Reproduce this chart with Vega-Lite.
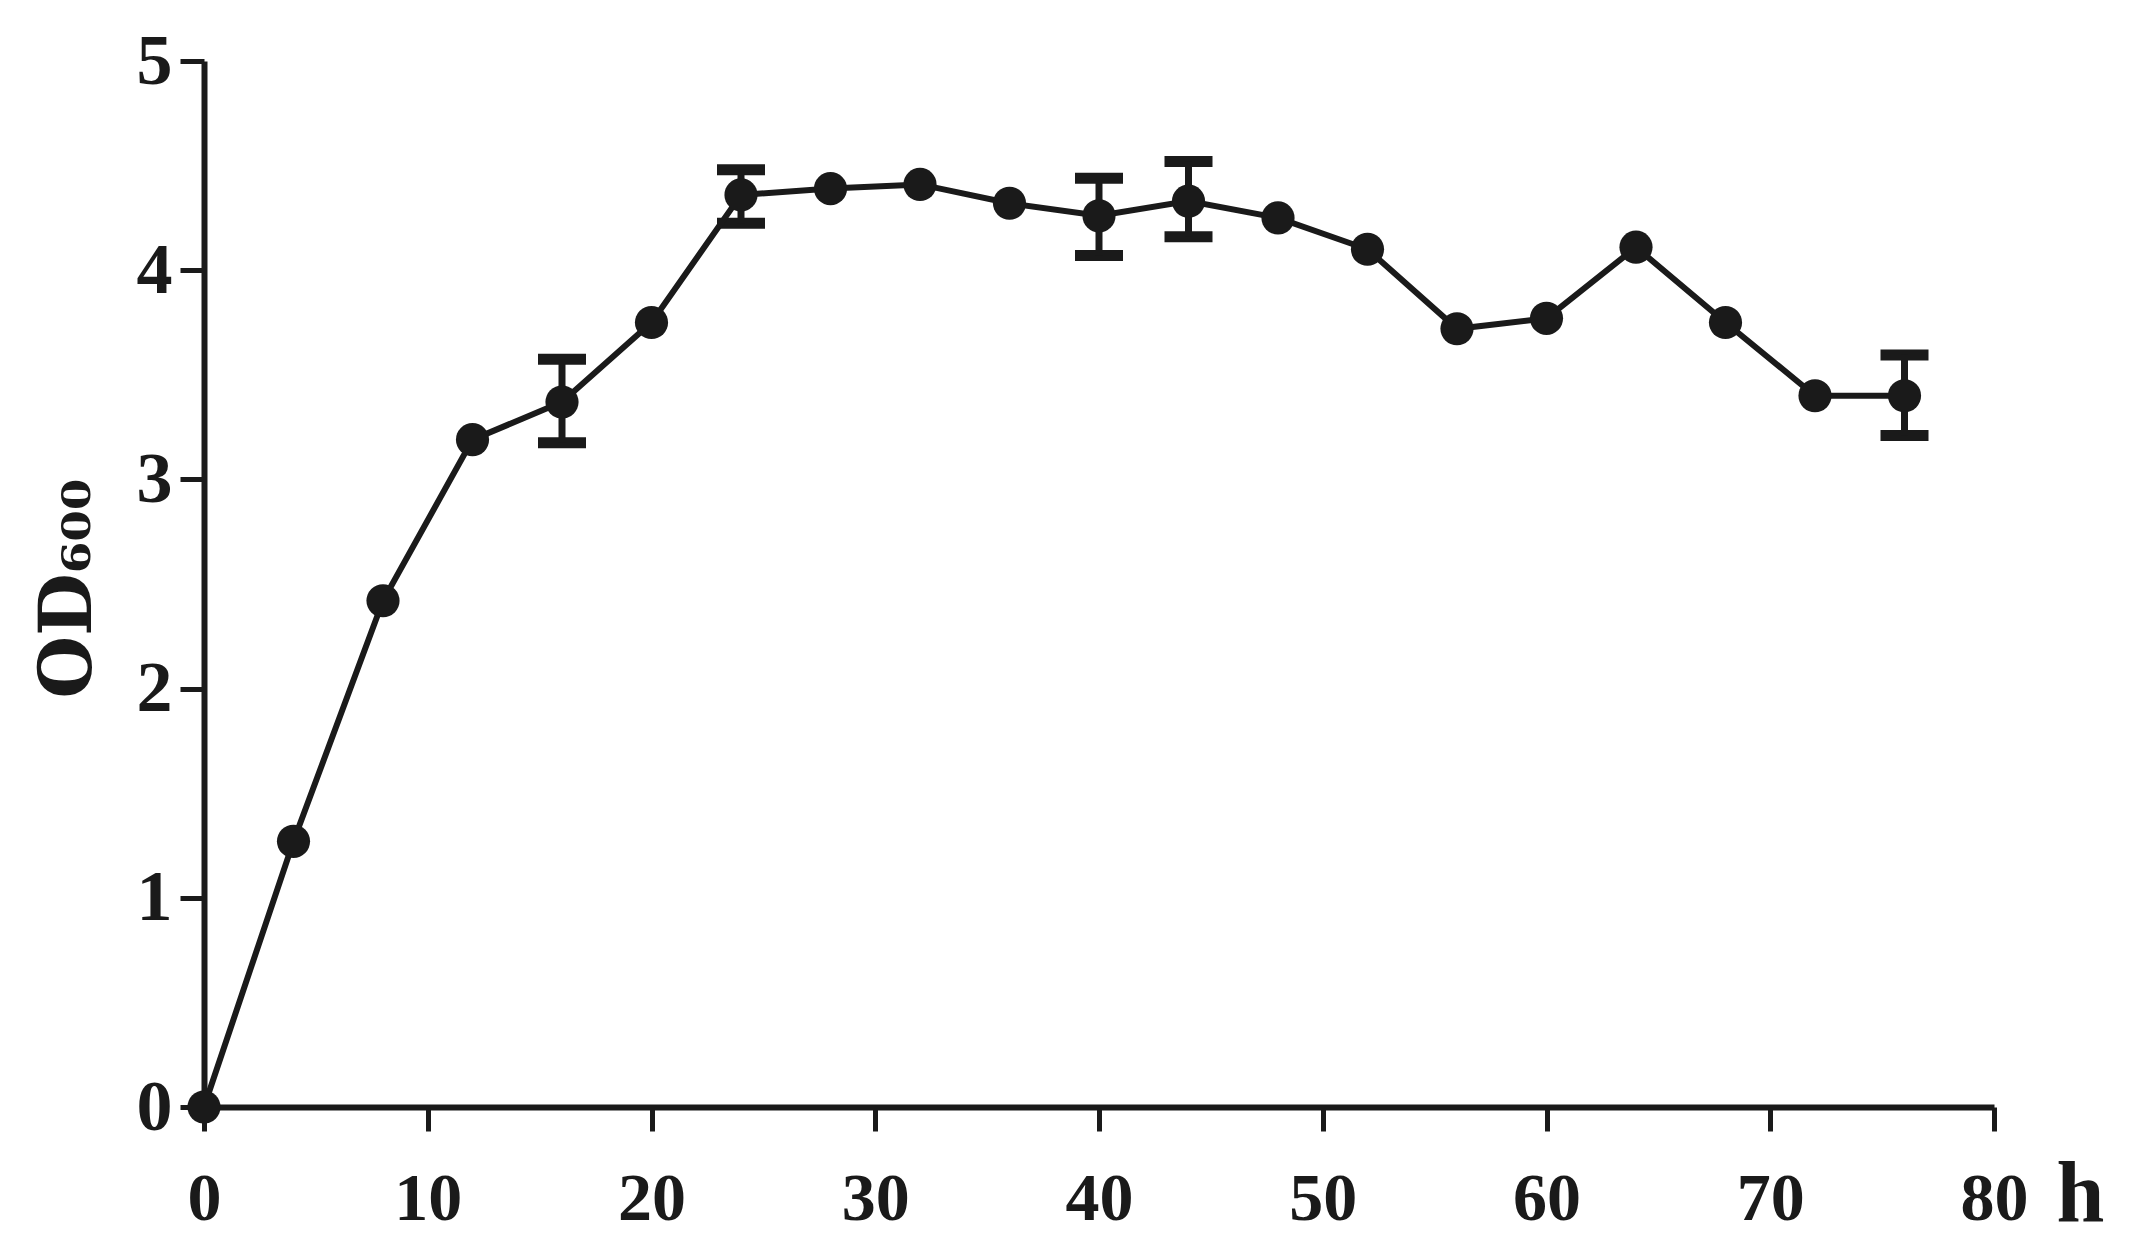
{
  "$schema": "https://vega.github.io/schema/vega-lite/v6.json",
  "autosize": {"type": "none"},
  "width": 1790,
  "height": 1046,
  "padding": {"left": 204, "top": 61, "right": 136, "bottom": 146},
  "background": "#ffffff",
  "config": {
    "view": {"stroke": null},
    "font": "Liberation Serif",
    "axis": {
      "domainColor": "#1a1a1a",
      "domainWidth": 6,
      "tickColor": "#1a1a1a",
      "tickWidth": 5,
      "tickSize": 24,
      "grid": false,
      "labelFlush": false,
      "labelOverlap": false,
      "labelFont": "Liberation Serif",
      "labelFontWeight": "bold",
      "labelFontSize": 68,
      "labelColor": "#1a1a1a",
      "titleFont": "Liberation Serif",
      "titleFontWeight": "bold",
      "titleColor": "#1a1a1a"
    }
  },
  "datasets": {
    "pts": [
      {"h": 0, "od": 0.0},
      {"h": 4, "od": 1.27},
      {"h": 8, "od": 2.42},
      {"h": 12, "od": 3.19},
      {"h": 16, "od": 3.37},
      {"h": 20, "od": 3.75},
      {"h": 24, "od": 4.36},
      {"h": 28, "od": 4.39},
      {"h": 32, "od": 4.41},
      {"h": 36, "od": 4.32},
      {"h": 40, "od": 4.26},
      {"h": 44, "od": 4.33},
      {"h": 48, "od": 4.25},
      {"h": 52, "od": 4.1},
      {"h": 56, "od": 3.72},
      {"h": 60, "od": 3.77},
      {"h": 64, "od": 4.11},
      {"h": 68, "od": 3.75},
      {"h": 72, "od": 3.4},
      {"h": 76, "od": 3.4}
    ],
    "err": [
      {"h": 16, "lo": 3.175, "hi": 3.574},
      {"h": 24, "lo": 4.225, "hi": 4.48},
      {"h": 40, "lo": 4.07, "hi": 4.44},
      {"h": 44, "lo": 4.16, "hi": 4.52},
      {"h": 76, "lo": 3.21, "hi": 3.595}
    ]
  },
  "layer": [
    {
      "data": {"name": "err"},
      "mark": {
        "type": "errorbar",
        "ticks": {"size": 48, "thickness": 11, "color": "#1a1a1a", "opacity": 1},
        "rule": {"strokeWidth": 7, "color": "#1a1a1a", "opacity": 1}
      },
      "encoding": {
        "x": {
          "field": "h", "type": "quantitative",
          "scale": {"domain": [0, 80], "nice": false},
          "title": "h",
          "axis": {
            "values": [0, 10, 20, 30, 40, 50, 60, 70, 80],
            "labelPadding": 34,
            "titleFontSize": 86,
            "titleAngle": 0,
            "titleAlign": "left",
            "titleBaseline": "alphabetic",
            "titleX": 1852,
            "titleY": 113
          }
        },
        "y": {
          "field": "lo", "type": "quantitative",
          "scale": {"domain": [0, 5], "nice": false},
          "title": "OD₆₀₀",
          "axis": {
            "values": [0, 1, 2, 3, 4, 5],
            "format": "d",
            "labelPadding": 8,
            "labelFontSize": 72,
            "titleFont": "DejaVu Serif",
            "titleFontSize": 72,
            "titleAngle": -90,
            "titleAlign": "center",
            "titleBaseline": "middle",
            "titleX": -136,
            "titleY": 527
          }
        },
        "y2": {"field": "hi"}
      }
    },
    {
      "data": {"name": "pts"},
      "mark": {"type": "line", "color": "#1a1a1a", "strokeWidth": 6},
      "encoding": {
        "x": {"field": "h", "type": "quantitative", "title": "h"},
        "y": {"field": "od", "type": "quantitative", "title": "OD₆₀₀"}
      }
    },
    {
      "data": {"name": "pts"},
      "mark": {"type": "point", "filled": true, "shape": "circle", "size": 1100, "color": "#1a1a1a", "opacity": 1},
      "encoding": {
        "x": {"field": "h", "type": "quantitative", "title": "h"},
        "y": {"field": "od", "type": "quantitative", "title": "OD₆₀₀"}
      }
    }
  ]
}
